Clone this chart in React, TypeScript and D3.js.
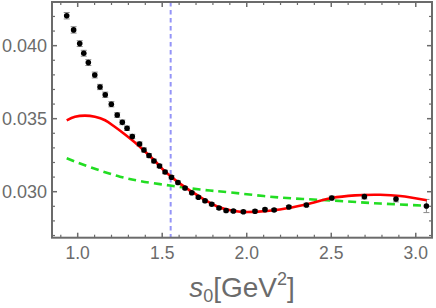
import React from 'react';
import * as d3 from 'd3';

// data points (s0, value, error)
const s0Pts = [0.935, 0.976, 1.012, 1.036, 1.063, 1.101, 1.132, 1.163, 1.199, 1.234, 1.264, 1.292, 1.323, 1.366, 1.392, 1.422, 1.451, 1.484, 1.517, 1.555, 1.593, 1.635, 1.675, 1.714, 1.753, 1.793, 1.836, 1.878, 1.921, 1.980, 2.049, 2.108, 2.162, 2.249, 2.353, 2.503, 2.696, 2.883, 3.063];
const valPts = [0.04205, 0.04108, 0.04014, 0.03948, 0.03884, 0.03799, 0.03717, 0.03664, 0.03599, 0.03525, 0.03475, 0.03434, 0.03378, 0.03327, 0.03286, 0.03248, 0.03210, 0.03176, 0.03135, 0.03099, 0.03063, 0.03025, 0.02993, 0.02962, 0.02938, 0.02914, 0.02888, 0.02871, 0.02868, 0.02863, 0.02866, 0.02877, 0.02875, 0.02895, 0.02909, 0.02957, 0.02966, 0.02950, 0.02902];
const errPts = [0.00022, 0.00022, 0.0002, 0.0002, 0.0002, 0.0002, 0.00018, 0.00018, 0.00018, 0.00016, 0.00016, 0.00015, 0.00015, 0.00014, 0.00014, 0.00013, 0.00013, 0.00012, 0.00012, 0.00012, 0.00011, 0.00011, 0.0001, 0.0001, 0.0001, 0.0001, 0.0001, 0.0001, 0.0001, 0.0001, 0.0001, 0.0001, 0.0001, 0.00011, 0.00012, 0.00013, 0.00016, 0.0002, 0.00045];

// red fit curve
const redS0 = [0.935, 0.984, 1.043, 1.102, 1.162, 1.221, 1.280, 1.339, 1.398, 1.457, 1.517, 1.605, 1.724, 1.842, 1.961, 2.049, 2.196, 2.351, 2.503, 2.641, 2.789, 2.907, 3.065];
const redVal = [0.03489, 0.03513, 0.03521, 0.03513, 0.03489, 0.03443, 0.03392, 0.03337, 0.03275, 0.03210, 0.03138, 0.03055, 0.02964, 0.02892, 0.02863, 0.02862, 0.02878, 0.02912, 0.02957, 0.02975, 0.02979, 0.02971, 0.02941];

// green dashed curve
const greenS0 = [0.935, 1.0, 1.132, 1.250, 1.369, 1.546, 1.724, 1.901, 2.197, 2.503, 2.789, 3.065];
const greenVal = [0.03229, 0.03199, 0.03145, 0.03103, 0.03073, 0.03042, 0.03015, 0.02995, 0.02960, 0.02940, 0.02919, 0.02904];

const cutS0 = 1.55;

const xMajor = [1.0, 1.5, 2.0, 2.5, 3.0];
const xMinor = [0.9, 1.1, 1.2, 1.3, 1.4, 1.6, 1.7, 1.8, 1.9, 2.1, 2.2, 2.3, 2.4, 2.6, 2.7, 2.8, 2.9];
const yMajor = [0.030, 0.035, 0.040];
const yMinor = [0.027, 0.028, 0.029, 0.031, 0.032, 0.033, 0.034, 0.036, 0.037, 0.038, 0.039, 0.041, 0.042];

const W = 436, H = 308;
const left = 52, right = 432, top = 2, bottom = 237.7;

export default function App() {
  const x = d3.scaleLinear().domain([0.848, 3.096]).range([left, right]);
  const y = d3.scaleLinear().domain([0.02685, 0.04299]).range([bottom, top]);

  const line = d3.line<[number, number]>()
    .x(d => x(d[0]))
    .y(d => y(d[1]))
    .curve(d3.curveCatmullRom);

  const red = redS0.map((s, i) => [s, redVal[i]] as [number, number]);
  const green = greenS0.map((s, i) => [s, greenVal[i]] as [number, number]);

  const axisCol = '#6b6b6b';
  const font = 'Liberation Sans, Arial, sans-serif';

  return (
    <svg width={W} height={H} style={{ position: 'absolute', left: 0, top: 0, background: '#fff' }}>
      <defs>
        <clipPath id="plotclip">
          <rect x={left} y={top} width={right - left} height={bottom - top} />
        </clipPath>
      </defs>

      <g clipPath="url(#plotclip)">
        <line x1={x(cutS0)} x2={x(cutS0)} y1={top} y2={bottom}
          stroke="#9494f7" strokeWidth={2} strokeDasharray="4.5,3.5" />
        <path d={line(green) || ''} fill="none" stroke="#22dd22" strokeWidth={2.6} strokeDasharray="8,5" />

        {s0Pts.map((s, i) => {
          const cx = x(s);
          const y1 = y(valPts[i] + errPts[i]);
          const y2 = y(valPts[i] - errPts[i]);
          return (
            <g key={i} stroke="#8a8a8a" strokeWidth={1}>
              <line x1={cx} x2={cx} y1={y1} y2={y2} />
              <line x1={cx - 3} x2={cx + 3} y1={y1} y2={y1} />
              <line x1={cx - 3} x2={cx + 3} y1={y2} y2={y2} />
            </g>
          );
        })}
        <path d={line(red) || ''} fill="none" stroke="#ff0000" strokeWidth={2.6} />
        {s0Pts.map((s, i) => (
          <circle key={i} cx={x(s)} cy={y(valPts[i])} r={2.8} fill="#000" />
        ))}
      </g>

      {/* frame */}
      <rect x={left} y={top} width={right - left} height={bottom - top} fill="none" stroke={axisCol} strokeWidth={2} />

      {/* ticks, all pointing inward */}
      {xMajor.map(t => (
        <g key={'xM' + t} stroke={axisCol} strokeWidth={1.5}>
          <line x1={x(t)} x2={x(t)} y1={bottom} y2={bottom - 5} />
          <line x1={x(t)} x2={x(t)} y1={top} y2={top + 5} />
        </g>
      ))}
      {xMinor.map(t => (
        <g key={'xm' + t} stroke={axisCol} strokeWidth={1.2}>
          <line x1={x(t)} x2={x(t)} y1={bottom} y2={bottom - 3} />
          <line x1={x(t)} x2={x(t)} y1={top} y2={top + 3} />
        </g>
      ))}
      {yMajor.map(t => (
        <g key={'yM' + t} stroke={axisCol} strokeWidth={1.5}>
          <line x1={left} x2={left + 5} y1={y(t)} y2={y(t)} />
          <line x1={right} x2={right - 5} y1={y(t)} y2={y(t)} />
        </g>
      ))}
      {yMinor.map(t => (
        <g key={'ym' + t} stroke={axisCol} strokeWidth={1.2}>
          <line x1={left} x2={left + 3} y1={y(t)} y2={y(t)} />
          <line x1={right} x2={right - 3} y1={y(t)} y2={y(t)} />
        </g>
      ))}

      {/* tick labels */}
      {xMajor.map(t => (
        <text key={'xl' + t} x={x(t)} y={259} textAnchor="middle" fontFamily={font} fontSize={17.5} fill={axisCol}>
          {d3.format('.1f')(t)}
        </text>
      ))}
      {yMajor.map(t => (
        <text key={'yl' + t} x={47} y={y(t)} dy="0.35em" textAnchor="end" fontFamily={font} fontSize={18} fill={axisCol}>
          {d3.format('.3f')(t)}
        </text>
      ))}

      {/* axis label */}
      <text x={242} y={297} textAnchor="middle" fontFamily={font} fontSize={28} fill={axisCol}>
        <tspan fontStyle="italic">s</tspan>
        <tspan fontSize={18} dy={5}>0</tspan>
        <tspan dy={-5}>[GeV</tspan>
        <tspan fontSize={18} dy={-12}>2</tspan>
        <tspan dy={12}>]</tspan>
      </text>
    </svg>
  );
}
